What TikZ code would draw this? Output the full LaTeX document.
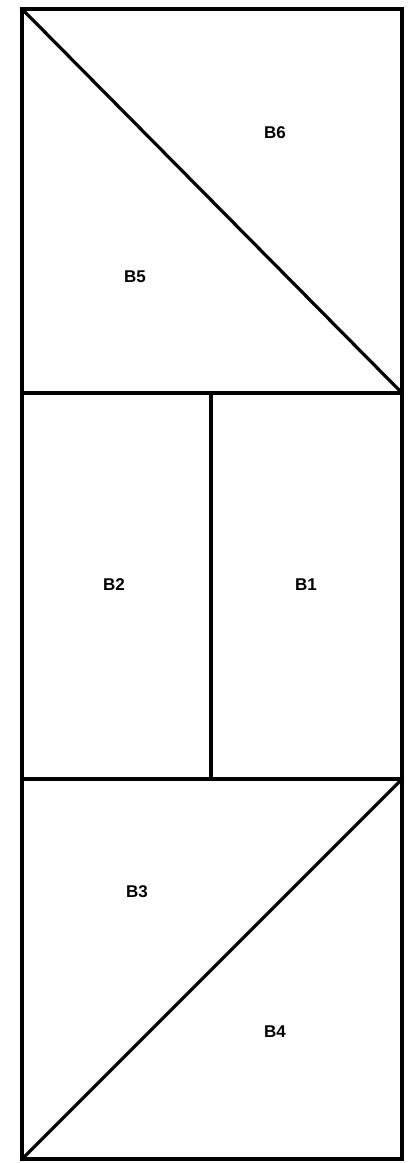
\documentclass[tikz,border=0pt]{standalone}
\usepackage{fontspec}
\setmainfont{Liberation Sans}
\usetikzlibrary{positioning}

\begin{document}
\begin{tikzpicture}[
  x=1pt, y=-1pt,
  edge/.style={line width=3.2pt, line cap=rect, line join=miter},
  blocklabel/.style={font=\fontsize{17}{20}\selectfont\bfseries, inner sep=0pt}
]
\useasboundingbox (0,0) rectangle (411,1163);

% Corners and split points
\coordinate (tl) at (22,9);
\coordinate (tr) at (402,9);
\coordinate (ml1) at (22,393);
\coordinate (mr1) at (402,393);
\coordinate (ml2) at (22,779);
\coordinate (mr2) at (402,779);
\coordinate (bl) at (22,1159);
\coordinate (br) at (402,1159);
\coordinate (mt) at (211,393);
\coordinate (mb) at (211,779);

% Outer frame and splits
\draw[edge] (tl) -- (tr) -- (br) -- (bl) -- cycle;
\draw[edge] (ml1) -- (mr1);
\draw[edge] (ml2) -- (mr2);
\draw[edge] (mt) -- (mb);
\draw[edge] (tl) -- (mr1);
\draw[edge] (bl) -- (mr2);

% Labels
\node[blocklabel] (b6) at (275,133) {B6};
\node[blocklabel] (b5) at (135,277) {B5};
\node[blocklabel] (b2) at (114,585) {B2};
\node[blocklabel] (b1) at (306,585) {B1};
\node[blocklabel] (b3) at (137,892) {B3};
\node[blocklabel] (b4) at (275,1032) {B4};

\end{tikzpicture}
\end{document}
